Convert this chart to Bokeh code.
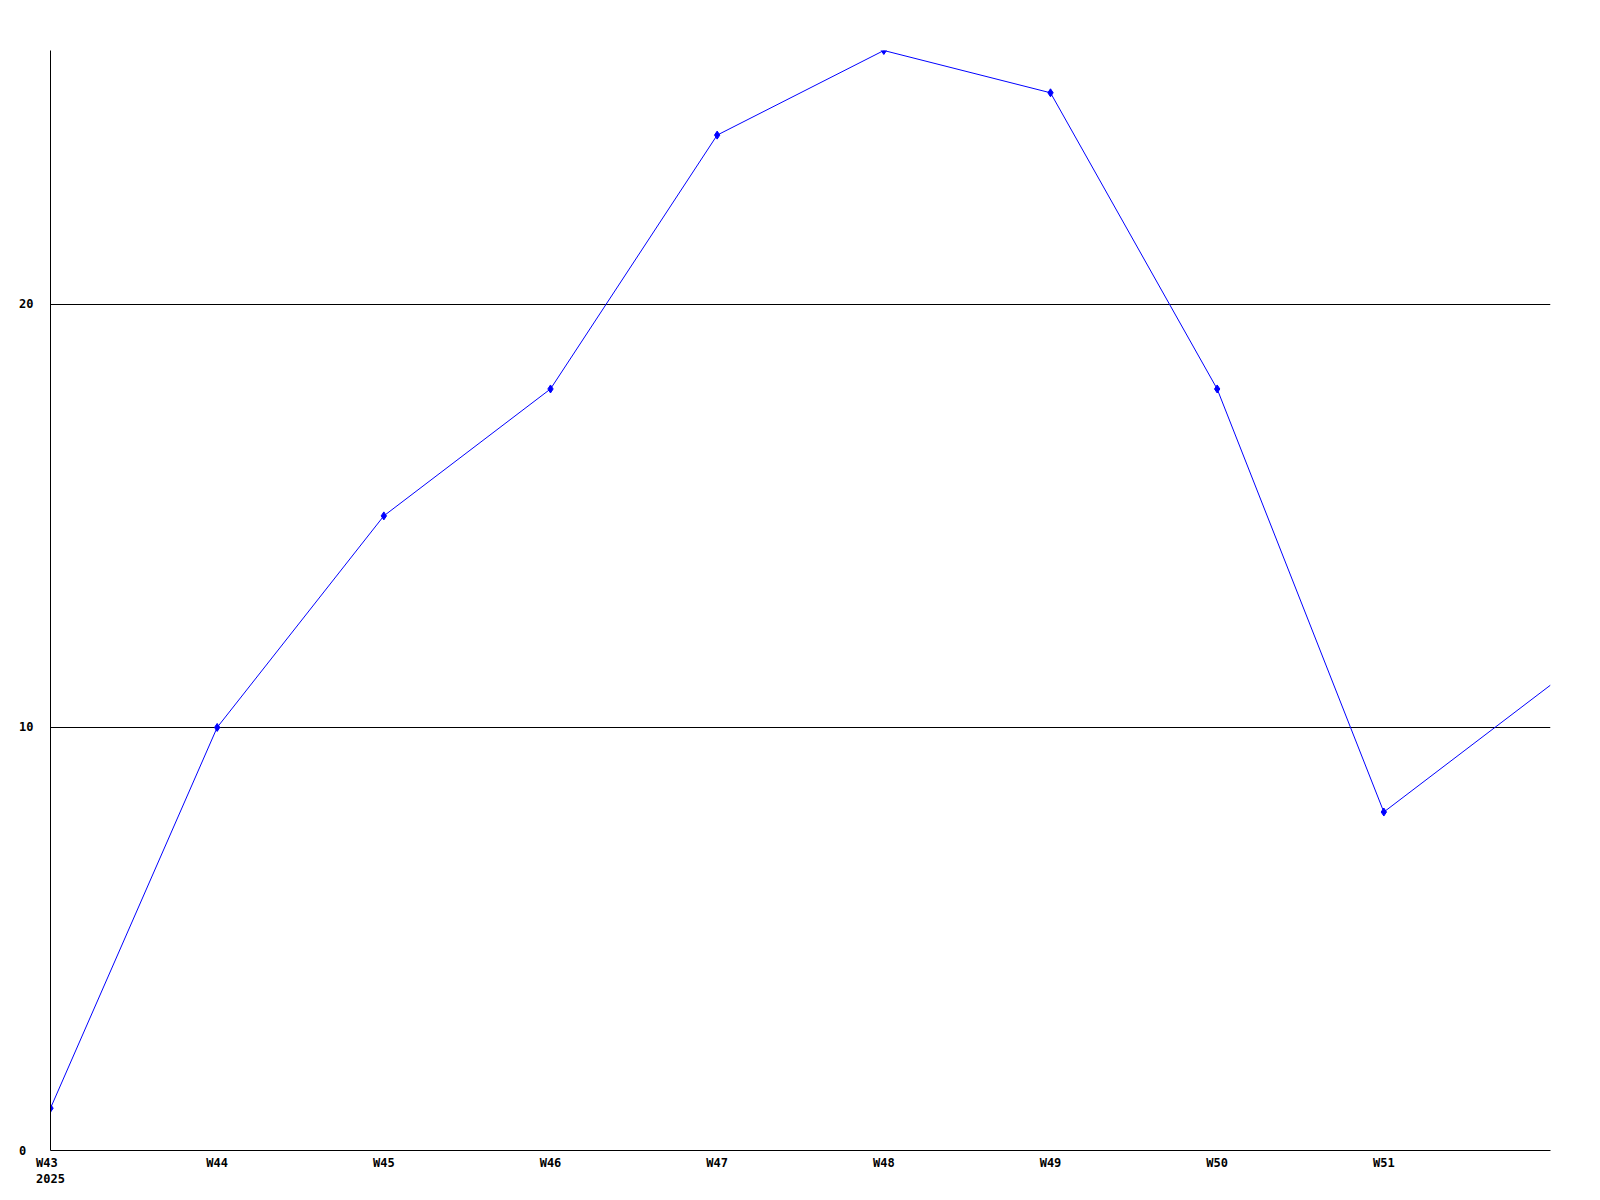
from bokeh.plotting import figure
from bokeh.models import Range1d, FixedTicker, ColumnDataSource
from bokeh.embed import file_html
from bokeh.resources import INLINE

weeks = ["W43", "W44", "W45", "W46", "W47", "W48", "W49", "W50", "W51", "W52"]
values = [1, 10, 15, 18, 24, 26, 25, 18, 8, 11]
year_label = "2025"
y_ticks = [0, 10, 20]
grid_ticks = [10, 20]

xs = list(range(len(weeks)))
FONT = "DejaVu Sans Mono"

p = figure(output_backend="svg", toolbar_location=None,
           frame_width=1500, frame_height=1100,
           min_border_left=50, min_border_right=42,
           min_border_top=50, min_border_bottom=42,
           x_range=Range1d(0, len(weeks) - 1), y_range=Range1d(0, 26))
p.outline_line_color = None
p.background_fill_color = "white"
p.border_fill_color = "white"

line_src = ColumnDataSource(dict(x=xs, y=values))
mark_src = ColumnDataSource(dict(x=xs[:-1], y=values[:-1]))
p.line("x", "y", source=line_src, line_color="#0000ff", line_width=1)
p.scatter("x", "y", source=mark_src, marker="diamond", size=8,
          fill_color="#0000ff", line_color="#0000ff")

# axes
p.xaxis.ticker = FixedTicker(ticks=xs[:-1])
labels = {i: w for i, w in enumerate(weeks)}
labels[0] = weeks[0] + "\u00a0\n" + year_label
p.xaxis.major_label_overrides = labels
p.yaxis.ticker = FixedTicker(ticks=y_ticks)
p.yaxis.major_label_overrides = {t: (str(t) + "\u00a0" * (2 - len(str(t)))) for t in y_ticks}
for ax in (p.xaxis[0], p.yaxis[0]):
    ax.axis_line_color = "black"
    ax.axis_line_width = 1
    ax.major_tick_out = 0
    ax.major_tick_in = 0
    ax.minor_tick_out = 0
    ax.minor_tick_in = 0
    ax.major_label_text_font = FONT
    ax.major_label_text_font_style = "bold"
    ax.major_label_text_font_size = "12px"
    ax.major_label_text_color = "black"
p.xaxis.major_label_standoff = 5
p.yaxis.major_label_standoff = 17

p.xgrid.visible = False
p.ygrid.ticker = FixedTicker(ticks=grid_ticks)
p.ygrid.grid_line_color = "black"
p.ygrid.grid_line_alpha = 1.0
p.ygrid.grid_line_width = 1

open("out.html", "w").write(file_html(p, INLINE))
